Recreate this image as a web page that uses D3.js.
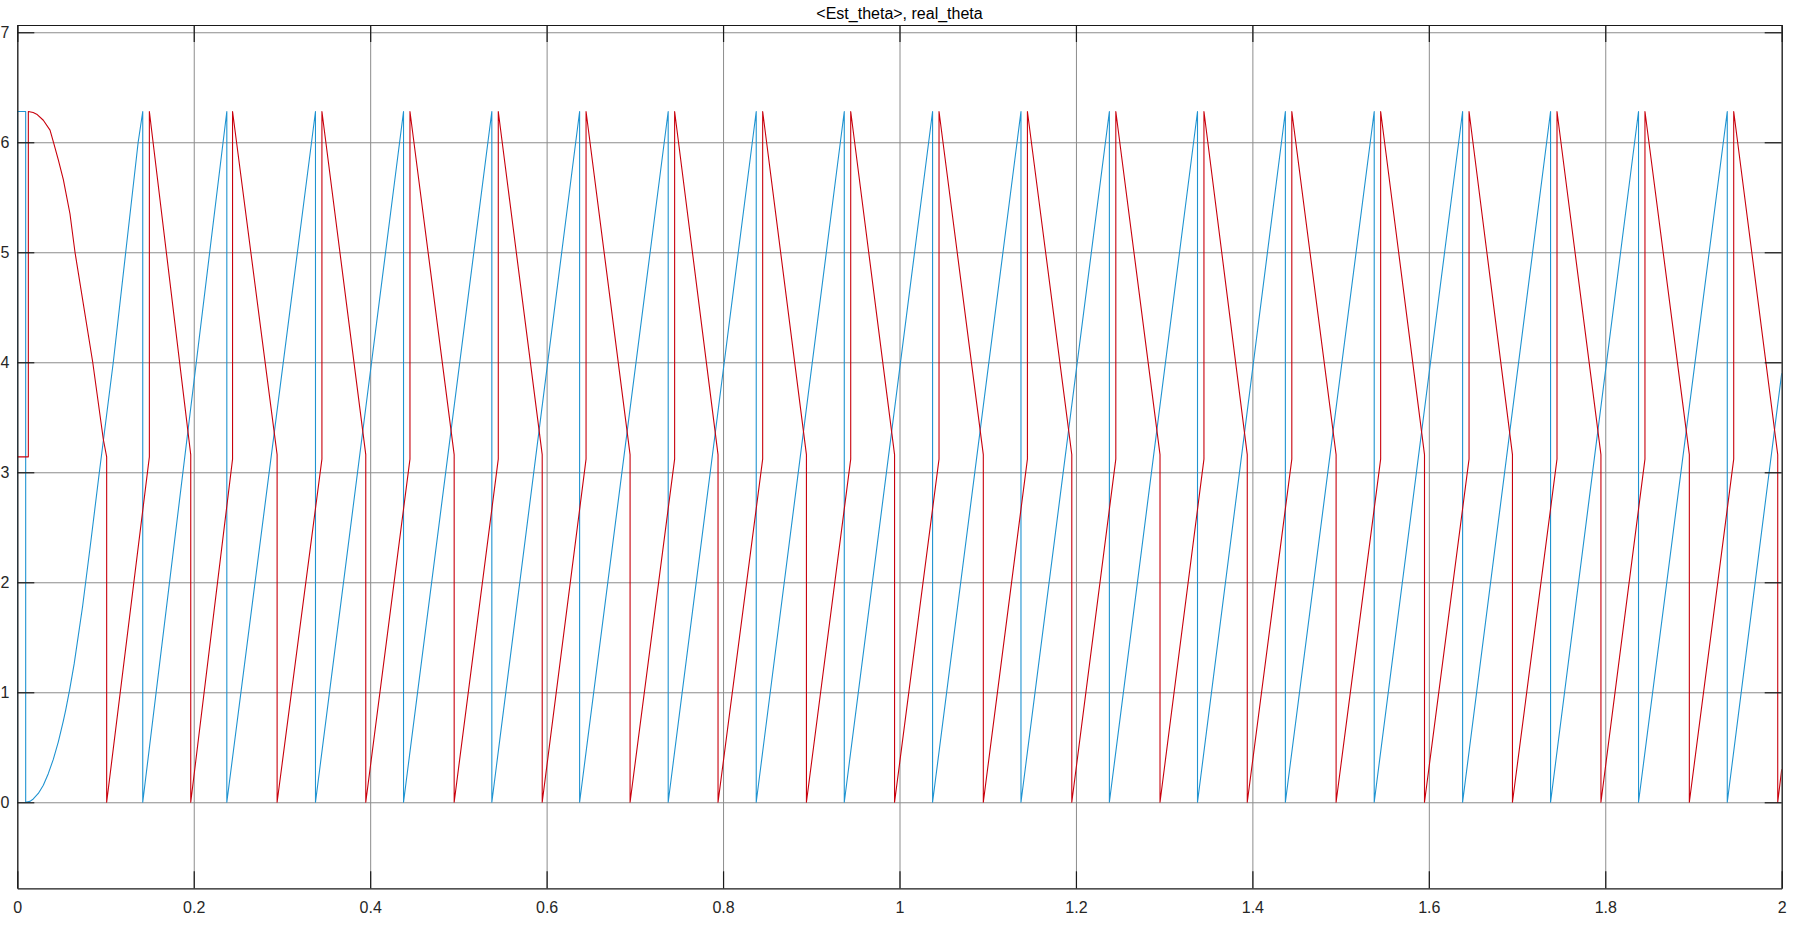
<!DOCTYPE html>
<html>
<head>
<meta charset="utf-8">
<script src="https://cdn.jsdelivr.net/npm/d3@7"></script>
<style>
  html, body { margin: 0; padding: 0; background: #ffffff; }
  svg { display: block; }
  text { font-family: "Liberation Sans", Arial, sans-serif; }
</style>
</head>
<body>
<svg id="chart" width="1800" height="948"></svg>
<script>
// ---------------- data ----------------
const chartTitle = "<Est_theta>, real_theta";
const xTicks = [0, 0.2, 0.4, 0.6, 0.8, 1, 1.2, 1.4, 1.6, 1.8, 2];
const xTickLabels = ["0", "0.2", "0.4", "0.6", "0.8", "1", "1.2", "1.4", "1.6", "1.8", "2"];
const yTicks = [0, 1, 2, 3, 4, 5, 6, 7];
const yTickLabels = ["0", "1", "2", "3", "4", "5", "6", "7"];
const xDomain = [0, 2];
const yDomain = [-0.782, 7.066];

// blue series: vertex times (s) and values (rad)
const blueT = [
  0, 0, 0.0095, 0.0095, 0.0144, 0.0181, 0.0238, 0.0295, 0.0351, 0.0408, 0.0465, 0.0522, 0.0549,
  0.0595, 0.0645, 0.074, 0.0835, 0.093, 0.1088, 0.1229, 0.137,
  0.1422, 0.1422, 0.2375, 0.2375, 0.3380, 0.3380, 0.4378, 0.4378, 0.5379, 0.5379,
  0.6374, 0.6374, 0.7378, 0.7378, 0.8376, 0.8376, 0.9374, 0.9374, 1.0375, 1.0375,
  1.1377, 1.1377, 1.2379, 1.2379, 1.3378, 1.3378, 1.4374, 1.4374, 1.5381, 1.5381,
  1.6383, 1.6383, 1.7380, 1.7380, 1.8377, 1.8377, 1.9383, 1.9383, 2.0
];
const blueV = [
  0, 6.28, 6.28, 0, 0.008, 0.03, 0.08, 0.155, 0.26, 0.39, 0.55, 0.74, 0.84,
  1.03, 1.26, 1.78, 2.38, 3.0, 4.0, 5.0, 6.0,
  6.28, 0, 6.28, 0, 6.28, 0, 6.28, 0, 6.28, 0,
  6.28, 0, 6.28, 0, 6.28, 0, 6.28, 0, 6.28, 0,
  6.28, 0, 6.28, 0, 6.28, 0, 6.28, 0, 6.28, 0,
  6.28, 0, 6.28, 0, 6.28, 0, 6.28, 0, 3.9
];

// red series: vertex times (s) and values (rad)
const redT = [
  0, 0.0125, 0.0125, 0.018, 0.022, 0.0295, 0.0371, 0.0408, 0.0465, 0.0522, 0.0597, 0.0654,
  0.0855, 0.0975, 0.1013, 0.1013,
  0.1497, 0.1497, 0.1966, 0.1966,
  0.2440, 0.2440, 0.2945, 0.2945,
  0.3453, 0.3453, 0.3950, 0.3950,
  0.4451, 0.4451, 0.4952, 0.4952,
  0.5452, 0.5452, 0.5950, 0.5950,
  0.6447, 0.6447, 0.6946, 0.6946,
  0.7451, 0.7451, 0.7943, 0.7943,
  0.8449, 0.8449, 0.8945, 0.8945,
  0.9447, 0.9447, 0.9944, 0.9944,
  1.0448, 1.0448, 1.0950, 1.0950,
  1.1450, 1.1450, 1.1953, 1.1953,
  1.2452, 1.2452, 1.2953, 1.2953,
  1.3451, 1.3451, 1.3942, 1.3942,
  1.4447, 1.4447, 1.4949, 1.4949,
  1.5454, 1.5454, 1.5951, 1.5951,
  1.6456, 1.6456, 1.6948, 1.6948,
  1.7453, 1.7453, 1.7951, 1.7951,
  1.8450, 1.8450, 1.8953, 1.8953,
  1.9456, 1.9456, 1.9955, 1.9955,
  2.0
];
const redV = [
  3.14, 3.14, 6.28, 6.27, 6.255, 6.20, 6.11, 6.005, 5.84, 5.66, 5.35, 5.0,
  4.0, 3.3, 3.14, 0,
  3.14, 6.28, 3.16, 0,
  3.12, 6.28, 3.16, 0,
  3.12, 6.28, 3.16, 0,
  3.12, 6.28, 3.16, 0,
  3.12, 6.28, 3.16, 0,
  3.12, 6.28, 3.16, 0,
  3.12, 6.28, 3.16, 0,
  3.12, 6.28, 3.16, 0,
  3.12, 6.28, 3.16, 0,
  3.12, 6.28, 3.16, 0,
  3.12, 6.28, 3.16, 0,
  3.12, 6.28, 3.16, 0,
  3.12, 6.28, 3.16, 0,
  3.12, 6.28, 3.16, 0,
  3.12, 6.28, 3.16, 0,
  3.12, 6.28, 3.16, 0,
  3.12, 6.28, 3.16, 0,
  3.12, 6.28, 3.16, 0,
  3.12, 6.28, 3.16, 0,
  0.3
];

// ---------------- layout ----------------
const plotLeft = 17.3, plotRight = 1781.7, plotTop = 25, plotBottom = 888.3;
const tickLen = 17;

const svg = d3.select("#chart");
svg.append("rect").attr("width", 1800).attr("height", 948).attr("fill", "#ffffff");

const x = d3.scaleLinear().domain(xDomain).range([plotLeft, plotRight]);
const y = d3.scaleLinear().domain(yDomain).range([plotBottom, plotTop]);
const W = plotRight - plotLeft, H = plotBottom - plotTop;

// grid
const grid = svg.append("g").attr("class", "grid");
grid.append("g")
  .attr("transform", `translate(0,${plotBottom})`)
  .call(d3.axisBottom(x).tickValues(xTicks).tickSize(-H).tickFormat(""))
  .call(g => g.select(".domain").remove())
  .call(g => g.selectAll("line").attr("stroke", "#8c8c8c").attr("stroke-width", 1));
grid.append("g")
  .attr("transform", `translate(${plotLeft},0)`)
  .call(d3.axisLeft(y).tickValues(yTicks).tickSize(-W).tickFormat(""))
  .call(g => g.select(".domain").remove())
  .call(g => g.selectAll("line").attr("stroke", "#8c8c8c").attr("stroke-width", 1));

// lines
svg.append("clipPath").attr("id", "plotclip")
  .append("rect").attr("x", plotLeft).attr("y", plotTop).attr("width", W).attr("height", H);

const lineGen = d3.line().x(d => x(d[0])).y(d => y(d[1]));
const blueData = blueT.map((t, i) => [t, blueV[i]]);
const redData = redT.map((t, i) => [t, redV[i]]);

const lines = svg.append("g").attr("clip-path", "url(#plotclip)");
lines.append("path").datum(blueData)
  .attr("d", lineGen).attr("fill", "none")
  .attr("stroke", "#1f93d1").attr("stroke-width", 1.1).attr("stroke-linejoin", "round");
lines.append("path").datum(redData)
  .attr("d", lineGen).attr("fill", "none")
  .attr("stroke", "#c8000c").attr("stroke-width", 1.1).attr("stroke-linejoin", "round");

// axes (ticks inward on all four sides)
const axisColor = "#1a1a1a";
const textColor = "#262626";
function styleAxis(g) {
  g.select(".domain").attr("stroke", axisColor).attr("stroke-width", 1.2);
  g.selectAll(".tick line").attr("stroke", axisColor).attr("stroke-width", 1.2);
  g.selectAll(".tick text").attr("fill", textColor).attr("font-size", 16)
    .attr("font-family", "'Liberation Sans', Arial, sans-serif");
}
svg.append("g")
  .attr("transform", `translate(0,${plotBottom})`)
  .call(d3.axisBottom(x).tickValues(xTicks).tickSizeInner(-tickLen).tickSizeOuter(0).tickPadding(13)
    .tickFormat((d, i) => xTickLabels[i]))
  .call(styleAxis);
svg.append("g")
  .attr("transform", `translate(0,${plotTop})`)
  .call(d3.axisTop(x).tickValues(xTicks).tickSizeInner(-tickLen).tickSizeOuter(0).tickFormat(""))
  .call(styleAxis);
svg.append("g")
  .attr("transform", `translate(${plotLeft},0)`)
  .call(d3.axisLeft(y).tickValues(yTicks).tickSizeInner(-tickLen).tickSizeOuter(0).tickPadding(8)
    .tickFormat((d, i) => yTickLabels[i]))
  .call(styleAxis);
svg.append("g")
  .attr("transform", `translate(${plotRight},0)`)
  .call(d3.axisRight(y).tickValues(yTicks).tickSizeInner(-tickLen).tickSizeOuter(0).tickFormat(""))
  .call(styleAxis);

// title
svg.append("text")
  .attr("x", (plotLeft + plotRight) / 2).attr("y", 18.5)
  .attr("text-anchor", "middle")
  .attr("font-size", 16).attr("fill", "#000000")
  .text(chartTitle);
</script>
</body>
</html>
